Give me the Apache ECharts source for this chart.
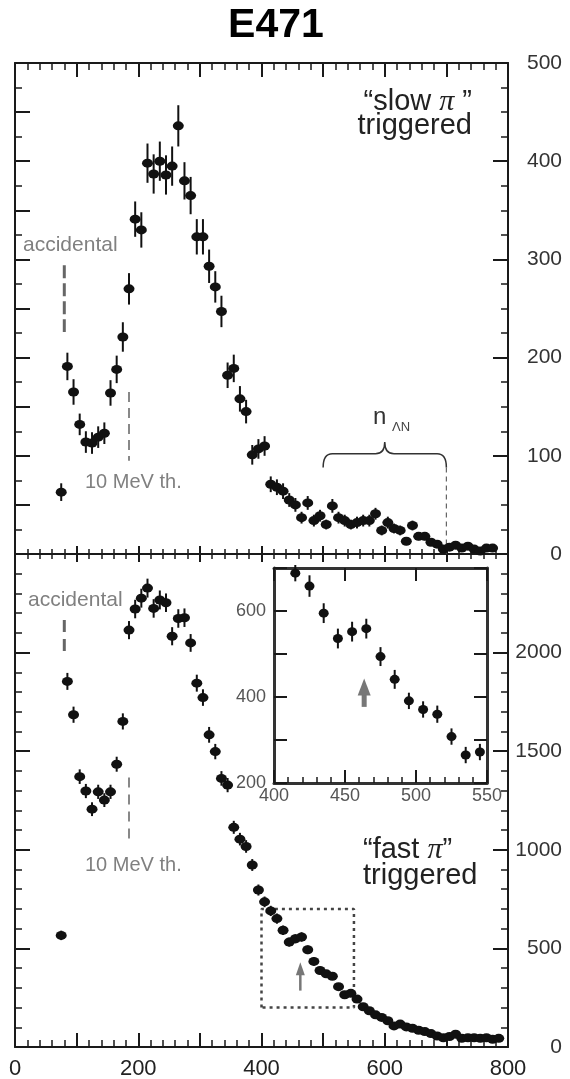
<!DOCTYPE html>
<html>
<head>
<meta charset="utf-8">
<style>
html, body { margin: 0; padding: 0; background: #fff; }
#chart { width: 570px; height: 1079px; }
</style>
<script src="https://cdn.jsdelivr.net/npm/echarts@6/dist/echarts.min.js"></script>
</head>
<body>
<div id="chart"></div>
<script>
// bin centres (MeV), shared by both panels
var energy = [75, 85, 95, 105, 115, 125, 135, 145, 155, 165,
    175, 185, 195, 205, 215, 225, 235, 245, 255, 265,
    275, 285, 295, 305, 315, 325, 335, 345, 355, 365,
    375, 385, 395, 405, 415, 425, 435, 445, 455, 465,
    475, 485, 495, 505, 515, 525, 535, 545, 555, 565,
    575, 585, 595, 605, 615, 625, 635, 645, 655, 665,
    675, 685, 695, 705, 715, 725, 735, 745, 755, 765,
    775, 785];

// "slow pi" triggered (top panel)
var slowCounts = [63, 191, 165, 132, 114, 113, 119, 123, 164, 188,
    221, 270, 341, 330, 398, 387, 400, 386, 395, 436,
    380, 365, 323, 323, 293, 272, 247, 182, 189, 158,
    145, 101, 107, 110, 71, 68, 64, 55, 50, 37,
    52, 34, 39, 30, 49, 37, 34, 30, 32, 34,
    34, 41, 24, 32, 26, 24, 13, 29, 18, 18,
    12, 10, 5, 7, 9, 6, 8, 5, 3, 6,
    6];
var slowErr = [9, 14, 13, 11, 11, 11, 11, 11, 13, 14,
    15, 16, 18, 18, 20, 20, 20, 20, 20, 21,
    19, 19, 18, 18, 17, 16, 16, 13, 14, 13,
    12, 10, 10, 10, 8, 8, 8, 7, 7, 6,
    7, 6, 6, 5, 7, 6, 6, 5, 6, 6,
    6, 6, 5, 6, 5, 5, 4, 5, 4, 4,
    3, 3, 2, 3, 3, 2, 3, 2, 2, 2,
    2];

// "fast pi" triggered (bottom panel)
var fastCounts = [566, 1854, 1685, 1371, 1298, 1206, 1294, 1252, 1294, 1434,
    1651, 2114, 2221, 2276, 2327, 2224, 2267, 2253, 2083, 2173,
    2177, 2049, 1845, 1772, 1583, 1498, 1362, 1328, 1114, 1054,
    1017, 923, 796, 736, 690, 651, 592, 532, 549, 558,
    493, 434, 388, 371, 359, 306, 265, 272, 243, 204,
    184, 163, 150, 133, 107, 116, 102, 95, 85, 78,
    68, 56, 47, 53, 65, 44, 47, 47, 44, 47,
    39, 44];
var fastErr = [24, 43, 41, 37, 36, 35, 36, 35, 36, 38,
    41, 46, 47, 48, 48, 47, 48, 47, 46, 47,
    47, 45, 43, 42, 40, 39, 37, 36, 33, 32,
    32, 30, 28, 27, 26, 26, 24, 23, 23, 24,
    22, 21, 20, 19, 19, 17, 16, 16, 16, 14,
    14, 13, 12, 12, 10, 11, 10, 10, 9, 9,
    8, 7, 7, 7, 8, 7, 7, 7, 7, 7,
    6, 7];

// zoomed inset (400-550 MeV)
var insetEnergy = [415, 425, 435, 445, 455, 465, 475, 485, 495, 505, 515, 525, 535, 545];
var insetCounts = [688, 658, 595, 536, 552, 559, 494, 441, 391, 371, 360, 308, 265, 272];
var insetErr = [19, 25, 23, 23, 23, 23, 22, 22, 19, 19, 20, 19, 19, 19];

// tick labels
var energyTicks = [0, 200, 400, 600, 800];
var slowTicks = [0, 100, 200, 300, 400, 500];
var fastTicks = [0, 500, 1000, 1500, 2000];
var insetXTicks = [400, 450, 500, 550];
var insetYTicks = [200, 400, 600];

var chart = echarts.init(document.getElementById('chart'));
var ink = '#111';
var grey = '#808080';
var sans = '"Liberation Sans", Arial, sans-serif';

function pairs(xs, ys) {
    return xs.slice(0, ys.length).map(function(x, i) { return [x, ys[i]]; });
}

function bars(xs, ys, es) {
    return ys.map(function(y, i) { return [xs[i], y - es[i], y + es[i]]; });
}

function onlyTicks(list) {
    return function(v) { return list.indexOf(v) >= 0 ? String(v) : ''; };
}

function frameAxis(opt) {
    var axis = {
        type: 'value',
        gridIndex: opt.grid,
        position: opt.position,
        min: opt.min,
        max: opt.max,
        interval: opt.interval,
        axisLine: {show: true, onZero: false, lineStyle: {color: opt.lineColor || '#1a1a1a', width: opt.lineWidth || 2}},
        axisTick: {show: opt.ticks !== false, inside: true, length: opt.tickLen || 13, lineStyle: {color: '#1a1a1a', width: 2}},
        minorTick: {show: !!opt.split, splitNumber: opt.split || 5, length: opt.minorLen || 6, lineStyle: {color: '#1a1a1a', width: 1.5}},
        splitLine: {show: false},
        axisLabel: {show: false}
    };
    if (opt.labels) {
        axis.axisLabel = {
            show: true,
            formatter: onlyTicks(opt.labels),
            fontFamily: sans,
            fontSize: opt.fontSize || 21,
            color: opt.labelColor || '#333',
            margin: opt.margin || 8,
            align: opt.align
        };
    }
    return axis;
}

function errorSeries(xi, yi, data, width) {
    return {
        type: 'custom',
        xAxisIndex: xi,
        yAxisIndex: yi,
        silent: true,
        z: 3,
        data: data,
        encode: {x: 0, y: [1, 2]},
        renderItem: function(params, api) {
            var lo = api.coord([api.value(0), api.value(1)]);
            var hi = api.coord([api.value(0), api.value(2)]);
            return {
                type: 'line',
                shape: {x1: lo[0], y1: lo[1], x2: hi[0], y2: hi[1]},
                style: {stroke: ink, lineWidth: width}
            };
        }
    };
}

function pointSeries(xi, yi, data, size) {
    return {
        type: 'scatter',
        xAxisIndex: xi,
        yAxisIndex: yi,
        silent: true,
        z: 4,
        symbol: 'circle',
        symbolSize: size,
        itemStyle: {color: ink, opacity: 1},
        data: data
    };
}

function guide(xi, yi, data, dash, width, color) {
    return {
        type: 'line',
        xAxisIndex: xi,
        yAxisIndex: yi,
        silent: true,
        symbol: 'none',
        z: 2,
        lineStyle: {color: color, width: width, type: dash},
        data: data
    };
}

// arrow pointing up from [x, y0] to [x, y1], drawn through the axes
function arrowSeries(xi, yi, x, y0, y1, headW, headH, shaftW) {
    return {
        type: 'custom',
        xAxisIndex: xi,
        yAxisIndex: yi,
        silent: true,
        z: 6,
        data: [[x, y0, y1]],
        encode: {x: 0, y: [1, 2]},
        renderItem: function(params, api) {
            var tail = api.coord([api.value(0), api.value(1)]);
            var tip = api.coord([api.value(0), api.value(2)]);
            return {
                type: 'group',
                children: [
                    {type: 'line', shape: {x1: tail[0], y1: tail[1], x2: tip[0], y2: tip[1] + headH * 0.7},
                        style: {stroke: '#777', lineWidth: shaftW}},
                    {type: 'polygon', shape: {points: [[tip[0], tip[1]], [tip[0] - headW / 2, tip[1] + headH], [tip[0] + headW / 2, tip[1] + headH]]},
                        style: {fill: '#777'}}
                ]
            };
        }
    };
}

// curly brace over the n_LambdaN region
function braceSeries(xi, yi, x0, x1, yEnd, yMid, yTip) {
    return {
        type: 'custom',
        xAxisIndex: xi,
        yAxisIndex: yi,
        silent: true,
        z: 6,
        data: [[x0, yEnd]],
        renderItem: function(params, api) {
            var xm = (x0 + x1) / 2;
            var a = api.coord([x0, yEnd]), b = api.coord([x0 + 15, yMid]), c = api.coord([xm - 15, yMid]);
            var t = api.coord([xm, yTip]), d = api.coord([xm + 15, yMid]), e = api.coord([x1 - 15, yMid]), f = api.coord([x1, yEnd]);
            var path = 'M' + a[0] + ' ' + a[1] +
                ' Q' + a[0] + ' ' + b[1] + ' ' + b[0] + ' ' + b[1] +
                ' L' + c[0] + ' ' + c[1] +
                ' Q' + t[0] + ' ' + c[1] + ' ' + t[0] + ' ' + t[1] +
                ' Q' + t[0] + ' ' + d[1] + ' ' + d[0] + ' ' + d[1] +
                ' L' + e[0] + ' ' + e[1] +
                ' Q' + f[0] + ' ' + e[1] + ' ' + f[0] + ' ' + f[1];
            return {type: 'path', shape: {pathData: path}, style: {stroke: '#333', lineWidth: 1.5, fill: 'none'}};
        }
    };
}

var option = {
    animation: false,
    backgroundColor: '#fff',
    grid: [
        {left: 15, width: 493, top: 63, height: 491, outerBoundsMode: 'none'},
        {left: 15, width: 493, top: 554, height: 493, outerBoundsMode: 'none'},
        {left: 274, width: 213, top: 568, height: 215, show: true, backgroundColor: '#fff', borderWidth: 0, outerBoundsMode: 'none'}
    ],
    xAxis: [
        frameAxis({grid: 0, position: 'bottom', min: 0, max: 800, interval: 100, split: 5, tickLen: 8, minorLen: 5}),
        frameAxis({grid: 0, position: 'top', min: 0, max: 800, interval: 100, split: 5, tickLen: 14, minorLen: 7}),
        frameAxis({grid: 1, position: 'bottom', min: 0, max: 800, interval: 100, split: 5, tickLen: 14, minorLen: 7,
            labels: energyTicks, fontSize: 22, margin: 11, labelColor: '#222'}),
        frameAxis({grid: 1, position: 'top', min: 0, max: 800, interval: 100, split: 5, tickLen: 8, minorLen: 5}),
        frameAxis({grid: 2, position: 'bottom', min: 400, max: 550, interval: 50, split: 5, tickLen: 13, minorLen: 6,
            lineWidth: 3, lineColor: '#333', labels: insetXTicks, fontSize: 18, margin: 4, labelColor: '#555'}),
        frameAxis({grid: 2, position: 'top', min: 400, max: 550, interval: 50, tickLen: 13, lineWidth: 3, lineColor: '#333'})
    ],
    yAxis: [
        frameAxis({grid: 0, position: 'right', min: 0, max: 500, interval: 100, split: 4, tickLen: 15, minorLen: 7,
            labels: slowTicks, margin: 54, align: 'right'}),
        frameAxis({grid: 0, position: 'left', min: 0, max: 500, interval: 50, split: 2, tickLen: 15, minorLen: 7}),
        frameAxis({grid: 1, position: 'right', min: 0, max: 2500, interval: 500, split: 5, tickLen: 15, minorLen: 7,
            labels: fastTicks, margin: 54, align: 'right'}),
        frameAxis({grid: 1, position: 'left', min: 0, max: 2500, interval: 500, split: 5, tickLen: 15, minorLen: 7}),
        frameAxis({grid: 2, position: 'left', min: 200, max: 700, interval: 100, tickLen: 13,
            lineWidth: 3, lineColor: '#333', labels: insetYTicks, fontSize: 18, margin: 8, labelColor: '#555'}),
        frameAxis({grid: 2, position: 'right', min: 200, max: 700, interval: 100, tickLen: 13, lineWidth: 3, lineColor: '#333'})
    ],
    series: [
        errorSeries(0, 0, bars(energy, slowCounts, slowErr), 2),
        pointSeries(0, 0, pairs(energy, slowCounts), [11, 9]),
        errorSeries(2, 2, bars(energy, fastCounts, fastErr), 2),
        pointSeries(2, 2, pairs(energy, fastCounts), [11, 9]),
        errorSeries(4, 4, bars(insetEnergy, insetCounts, insetErr), 2),
        pointSeries(4, 4, pairs(insetEnergy, insetCounts), [10, 9]),
        // threshold / accidental markers
        guide(0, 0, [[80, 294], [80, 226]], [13, 5], 3, '#666'),
        guide(0, 0, [[185, 165], [185, 95]], [10, 6], 2, '#888'),
        guide(2, 2, [[80, 2165], [80, 2005]], [12, 7], 3, '#666'),
        guide(2, 2, [[185, 1367], [185, 1036]], [10, 7], 2, '#888'),
        guide(0, 0, [[700, 88], [700, 0]], [5, 4], 1.2, '#666'),
        // dotted box marking the inset range
        guide(2, 2, [[400, 200], [400, 700], [550, 700], [550, 200], [400, 200]], [3, 4], 2.5, '#444'),
        braceSeries(0, 0, 500, 700, 88, 102, 114),
        arrowSeries(2, 2, 463, 286, 430, 9, 13, 2.5),
        arrowSeries(4, 4, 463.5, 377, 443, 13, 17, 5)
    ]
};

chart.setOption(option);

function label(x, y, text, size, color, align, extra) {
    var el = {
        type: 'text',
        x: x,
        y: y,
        z: 10,
        silent: true,
        style: {
            text: text,
            fontFamily: sans,
            fontSize: size,
            fill: color,
            align: align || 'left',
            verticalAlign: 'middle'
        }
    };
    if (extra) {
        for (var k in extra) el.style[k] = extra[k];
    }
    return el;
}

var piRich = {pi: {fontFamily: '"Liberation Serif", serif', fontStyle: 'italic', fontSize: 30, fill: '#222'}};

chart.setOption({graphic: [
    label(276, 26, 'E471', 41, '#000', 'center', {fontWeight: 'bold'}),
    label(472, 102, '\u201cslow {pi|\u03c0} \u201d', 29, '#222', 'right', {rich: piRich}),
    label(472, 126, 'triggered', 29, '#222', 'right'),
    label(23, 245, 'accidental', 21, grey),
    label(85, 482, '10 MeV th.', 20, grey),
    label(373, 417, 'n', 24, '#333'),
    label(392, 427, '\u039bN', 13, '#444'),
    label(28, 600, 'accidental', 21, grey),
    label(85, 865, '10 MeV th.', 20, grey),
    label(363, 850, '\u201cfast {pi|\u03c0}\u201d', 29, '#222', 'left', {rich: piRich}),
    label(363, 876, 'triggered', 29, '#222', 'left')
]});
</script>
</body>
</html>
